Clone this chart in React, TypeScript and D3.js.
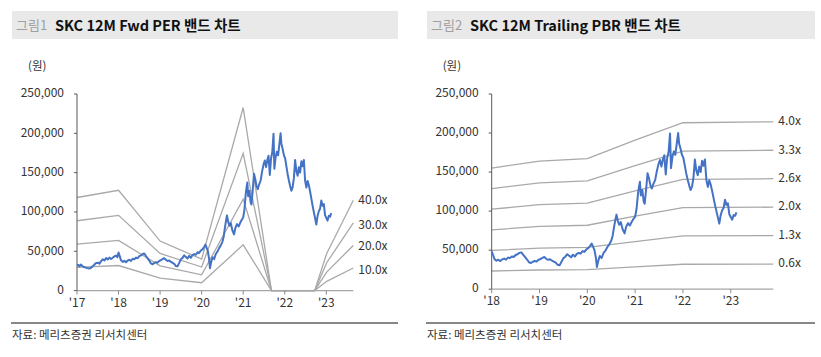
import React from "react";
import * as d3 from "d3";

// ---- data ----
// SKC share price (decimal year, KRW)
const PRICE: [number, number][] = [
  [2017.0, 31500], [2017.03, 32800], [2017.06, 30800], [2017.09, 33200], [2017.13, 31200],
  [2017.17, 30000], [2017.21, 29200], [2017.25, 28600], [2017.29, 28000], [2017.33, 28800],
  [2017.37, 30500], [2017.41, 32500], [2017.45, 34800], [2017.5, 35500], [2017.54, 34200],
  [2017.58, 37500], [2017.62, 39800], [2017.66, 38200], [2017.7, 41500], [2017.74, 39500],
  [2017.78, 42000], [2017.82, 40200], [2017.86, 41800], [2017.9, 43500], [2017.94, 44500],
  [2017.97, 42500], [2018.0, 48500], [2018.03, 43500], [2018.06, 38500], [2018.1, 36500],
  [2018.14, 37800], [2018.18, 36000], [2018.22, 38200], [2018.26, 39200], [2018.3, 37800],
  [2018.34, 40500], [2018.38, 39800], [2018.42, 42000], [2018.46, 41200], [2018.5, 43800],
  [2018.54, 44800], [2018.58, 46500], [2018.62, 47200], [2018.66, 44000], [2018.7, 41000],
  [2018.74, 38000], [2018.78, 34500], [2018.82, 33500], [2018.86, 35200], [2018.9, 36200],
  [2018.94, 35500], [2018.98, 37800], [2019.02, 38600], [2019.06, 40200], [2019.1, 41200],
  [2019.14, 39000], [2019.18, 37600], [2019.22, 38400], [2019.26, 36500], [2019.3, 35400],
  [2019.34, 34000], [2019.38, 31200], [2019.42, 30800], [2019.46, 35200], [2019.5, 39800],
  [2019.54, 41600], [2019.58, 44800], [2019.62, 42800], [2019.66, 40800], [2019.7, 44200],
  [2019.74, 41800], [2019.78, 45200], [2019.82, 46400], [2019.86, 45500], [2019.9, 48800],
  [2019.94, 47800], [2019.98, 51000], [2020.02, 52500], [2020.06, 55500], [2020.09, 58500],
  [2020.12, 54500], [2020.15, 50000], [2020.18, 40000], [2020.2, 28500], [2020.23, 36500],
  [2020.26, 42500], [2020.3, 40000], [2020.34, 46500], [2020.38, 49500], [2020.42, 54000],
  [2020.46, 57500], [2020.5, 62000], [2020.53, 68500], [2020.56, 80000], [2020.59, 90000],
  [2020.61, 95500], [2020.64, 87000], [2020.67, 82500], [2020.7, 86000], [2020.74, 76500],
  [2020.78, 71500], [2020.81, 79500], [2020.85, 84500], [2020.89, 81500], [2020.93, 86500],
  [2020.97, 90500], [2021.0, 93000], [2021.03, 103000], [2021.06, 122000], [2021.08, 131000],
  [2021.1, 137500], [2021.12, 120000], [2021.15, 127000], [2021.18, 112000], [2021.2, 109500],
  [2021.23, 128000], [2021.26, 148500], [2021.29, 142000], [2021.32, 133000], [2021.35, 129000],
  [2021.38, 134500], [2021.42, 140000], [2021.45, 150000], [2021.49, 160500], [2021.52, 165500],
  [2021.55, 157000], [2021.58, 166000], [2021.61, 171500], [2021.64, 147000], [2021.67, 168000],
  [2021.7, 176000], [2021.73, 199500], [2021.75, 155000], [2021.78, 169500], [2021.81, 176500],
  [2021.84, 172000], [2021.87, 186000], [2021.9, 200000], [2021.92, 186500], [2021.95, 180000],
  [2021.98, 172000], [2022.01, 168000], [2022.04, 158000], [2022.07, 148000], [2022.1, 140000],
  [2022.13, 133000], [2022.16, 127000], [2022.19, 131500], [2022.22, 143000], [2022.25, 166000],
  [2022.28, 152000], [2022.31, 146000], [2022.34, 157000], [2022.37, 150000], [2022.4, 164500],
  [2022.43, 158000], [2022.46, 166000], [2022.49, 140000], [2022.52, 131000], [2022.55, 139500],
  [2022.58, 134000], [2022.61, 126000], [2022.64, 117000], [2022.67, 108000], [2022.7, 100000],
  [2022.73, 92000], [2022.76, 84000], [2022.79, 95000], [2022.82, 101000], [2022.85, 104000],
  [2022.88, 114500], [2022.91, 108000], [2022.94, 110000], [2022.97, 96000], [2023.0, 92500],
  [2023.03, 89000], [2023.06, 95000], [2023.09, 94000], [2023.12, 98500],
];

// 12M Fwd PER band
const PER_DATES = [2017.0, 2018.0, 2019.0, 2020.0, 2021.0, 2021.68, 2022.72, 2023.01, 2023.65];
const PER_EPS = [2960, 3190, 1575, 1000, 5820, 0, 0, 1180, 2870];
const PER_MULTIPLES = [40, 30, 20, 10];
const PER_LABELS = ["40.0x", "30.0x", "20.0x", "10.0x"];
const PER_YEARS = [2017, 2018, 2019, 2020, 2021, 2022, 2023];

// 12M Trailing PBR band
const PBR_DATES = [2018.0, 2019.0, 2020.0, 2021.0, 2022.0, 2023.89];
const PBR_BPS = [38800, 41000, 41800, 47700, 53300, 53600];
const PBR_MULTIPLES = [4.0, 3.32, 2.64, 1.96, 1.28, 0.6];
const PBR_LABELS = ["4.0x", "3.3x", "2.6x", "2.0x", "1.3x", "0.6x"];
const PBR_YEARS = [2018, 2019, 2020, 2021, 2022, 2023];

const Y_TICKS = [0, 50000, 100000, 150000, 200000, 250000];

const FONT = '"Noto Sans CJK KR", "Noto Sans", sans-serif';

type ChartProps = {
  ox: number;
  figLabel: string;
  title: string;
  x0: number;
  x1: number;
  domain: [number, number];
  yBottom: number;
  yTop: number;
  years: number[];
  bandDates: number[];
  bandBase: number[];
  multiples: number[];
  labels: string[];
  price: [number, number][];
  labelDy: number[];
  headerW: number;
};

function Chart(p: ChartProps) {
  const x = d3.scaleLinear().domain(p.domain).range([p.x0, p.x1]);
  const y = d3.scaleLinear().domain([0, 250000]).range([p.yBottom, p.yTop]);
  const line = d3
    .line<[number, number]>()
    .x((d) => x(d[0]))
    .y((d) => y(d[1]));
  const priceData = p.price.filter((d) => d[0] >= p.domain[0]);
  const fmt = d3.format(",");
  return (
    <g>
      {/* header */}
      <rect x={p.ox + 12} y={11} width={p.headerW} height={28} fill="#e9e9e9" />
      <text x={p.ox + 16} y={30} fontSize={13} fill="#a0a0a0" fontFamily={FONT}>
        {p.figLabel}
      </text>
      <text x={p.ox + 55} y={30.5} fontSize={14.5} fontWeight={700} fill="#111" fontFamily={FONT}>
        {p.title}
      </text>
      {/* unit */}
      <text x={p.x0 - 49} y={70} fontSize={11.5} fill="#333" fontFamily={FONT}>
        (원)
      </text>
      {/* bands */}
      {p.multiples.map((m, i) => {
        const pts: [number, number][] = p.bandDates.map((d, j) => [d, p.bandBase[j] * m]);
        const last = pts[pts.length - 1];
        return (
          <g key={i}>
            <path d={line(pts) || ""} fill="none" stroke="#a9a9a9" strokeWidth={1.3} />
            <text
              x={p.x1 + 5}
              y={y(last[1]) + p.labelDy[i]}
              fontSize={12}
              fill="#333"
              dominantBaseline="middle"
              fontFamily={FONT}
            >
              {p.labels[i]}
            </text>
          </g>
        );
      })}
      {/* axes */}
      <line x1={p.x0} x2={p.x1} y1={p.yBottom} y2={p.yBottom} stroke="#a6a6a6" strokeWidth={1.2} />
      <line x1={p.x0} x2={p.x0} y1={p.yBottom} y2={p.yTop} stroke="#595959" strokeWidth={1} />
      {Y_TICKS.map((t) => (
        <g key={t}>
          <line x1={p.x0 - 3} x2={p.x0} y1={y(t)} y2={y(t)} stroke="#595959" />
          <text
            x={p.x0 - 13}
            y={y(t)}
            textAnchor="end"
            dominantBaseline="middle"
            fontSize={12}
            fill="#333"
            fontFamily={FONT}
          >
            {fmt(t)}
          </text>
        </g>
      ))}
      {p.years.map((yr) => (
        <g key={yr}>
          <line x1={x(yr)} x2={x(yr)} y1={p.yBottom} y2={p.yBottom + 4} stroke="#8c8c8c" />
          <text
            x={x(yr)}
            y={p.yBottom + 16}
            textAnchor="middle"
            fontSize={12}
            fill="#333"
            fontFamily={FONT}
          >
            {"'" + String(yr).slice(2)}
          </text>
        </g>
      ))}
      {/* price */}
      <path
        d={line(priceData) || ""}
        fill="none"
        stroke="#4472c4"
        strokeWidth={2}
        strokeLinejoin="round"
      />
      {/* footer */}
      <line x1={p.ox + 11} x2={p.ox + p.headerW + 12} y1={323} y2={323} stroke="#111" strokeWidth={1.2} />
      <text x={p.ox + 12} y={339} fontSize={11.5} fill="#333" fontFamily={FONT}>
        자료: 메리츠증권 리서치센터
      </text>
    </g>
  );
}

export default function App() {
  return (
    <svg
      width={821}
      height={357}
      style={{ position: "absolute", left: 0, top: 0, background: "#fff" }}
    >
      <rect x={0} y={0} width={821} height={357} fill="#fff" />
      <Chart
        ox={0}
        figLabel="그림1"
        title="SKC 12M Fwd PER 밴드 차트"
        x0={77}
        x1={353.3}
        domain={[2017, 2023.65]}
        yBottom={290.6}
        yTop={94}
        years={PER_YEARS}
        bandDates={PER_DATES}
        bandBase={PER_EPS}
        multiples={PER_MULTIPLES}
        labels={PER_LABELS}
        price={PRICE}
        labelDy={[0, 3, 1, 3]}
        headerW={386}
      />
      <Chart
        ox={415}
        figLabel="그림2"
        title="SKC 12M Trailing PBR 밴드 차트"
        x0={491.7}
        x1={773.3}
        domain={[2018, 2023.89]}
        yBottom={289.2}
        yTop={94}
        years={PBR_YEARS}
        bandDates={PBR_DATES}
        bandBase={PBR_BPS}
        multiples={PBR_MULTIPLES}
        labels={PBR_LABELS}
        price={PRICE}
        labelDy={[0, 0, 0, 0, 0, 0]}
        headerW={388}
      />
    </svg>
  );
}
